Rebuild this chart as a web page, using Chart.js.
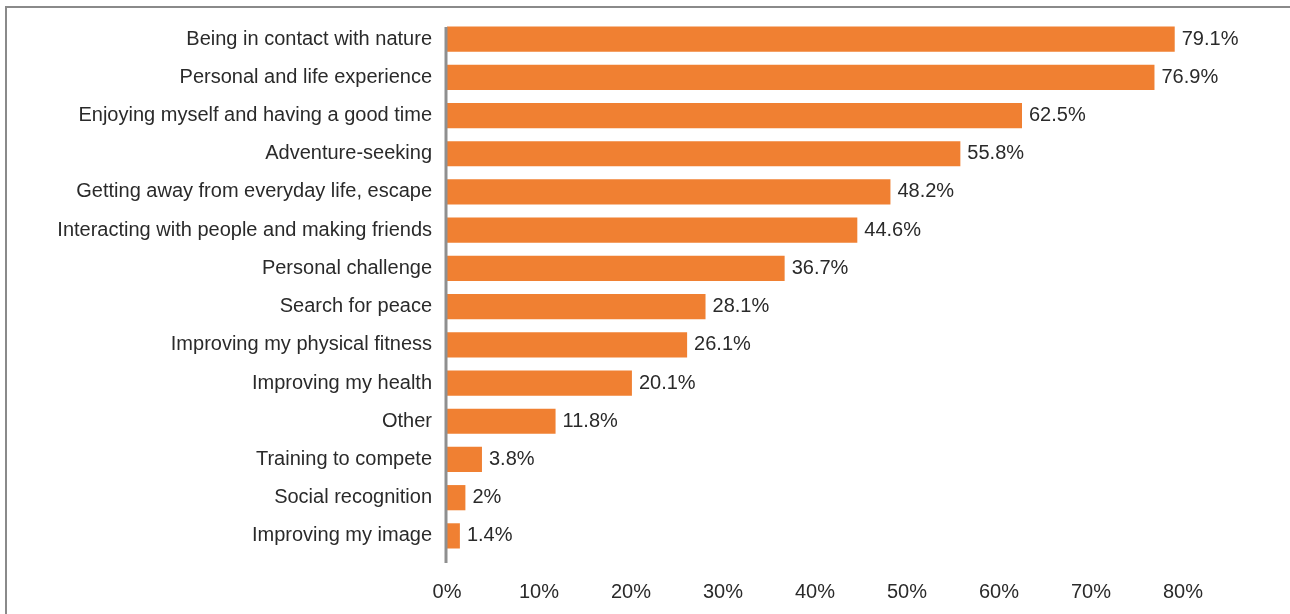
<!DOCTYPE html>
<html>
<head>
<meta charset="utf-8">
<script src="https://cdn.jsdelivr.net/npm/chart.js@4/dist/chart.umd.min.js"></script>
<style>
  html, body { margin: 0; padding: 0; background: #fff; overflow: hidden; }
  #frame {
    position: absolute; left: 5px; top: 6px; width: 1300px; height: 700px;
    border-left: 2px solid #8a8a8a; border-top: 2px solid #8a8a8a;
  }
  #wrap { position: absolute; left: 0; top: 0; width: 1290px; height: 614px; }
</style>
</head>
<body>
<div id="frame"></div>
<div id="wrap"><canvas id="motivChart"></canvas></div>
<script>
// motivations (top to bottom)
const categories = [
    "Being in contact with nature",
    "Personal and life experience",
    "Enjoying myself and having a good time",
    "Adventure-seeking",
    "Getting away from everyday life, escape",
    "Interacting with people and making friends",
    "Personal challenge",
    "Search for peace",
    "Improving my physical fitness",
    "Improving my health",
    "Other",
    "Training to compete",
    "Social recognition",
    "Improving my image"
];
const percents = [79.1, 76.9, 62.5, 55.8, 48.2, 44.6, 36.7, 28.1, 26.1, 20.1, 11.8, 3.8, 2, 1.4];
const xTicks = [0, 10, 20, 30, 40, 50, 60, 70, 80];

const textColor = "#2a2a2a";
const fontFamily = "'Liberation Sans', Arial, Helvetica, sans-serif";

// etiquettes de valeur a droite des barres
const valueLabels = {
    id: "valueLabels",
    afterDatasetsDraw(chart) {
        const ctx = chart.ctx;
        const meta = chart.getDatasetMeta(0);
        ctx.save();
        ctx.font = "20px " + fontFamily;
        ctx.fillStyle = textColor;
        ctx.textAlign = "left";
        ctx.textBaseline = "middle";
        meta.data.forEach((bar, i) => {
            ctx.fillText(percents[i] + "%", bar.x + 7, bar.y);
        });
        ctx.restore();
    }
};

// axe vertical gris (un peu plus long que la zone)
const axisLine = {
    id: "axisLine",
    afterDatasetsDraw(chart) {
        const ctx = chart.ctx;
        const area = chart.chartArea;
        const x0 = chart.scales.x.getPixelForValue(0) - 1;
        ctx.save();
        ctx.strokeStyle = "#8f8f8f";
        ctx.lineWidth = 3;
        ctx.beginPath();
        ctx.moveTo(x0, area.top + 7);
        ctx.lineTo(x0, area.bottom + 8);
        ctx.stroke();
        ctx.restore();
    }
};

const ctx = document.getElementById("motivChart").getContext("2d");

new Chart(ctx, {
    type: "bar",
    data: {
        labels: categories,
        datasets: [{
            data: percents,
            backgroundColor: "#F08032",
            categoryPercentage: 1,
            barPercentage: 0.66
        }]
    },
    options: {
        indexAxis: "y",
        responsive: true,
        maintainAspectRatio: false,
        animation: false,
        layout: { padding: { left: 0, right: 107, top: 20, bottom: 0 } },
        plugins: {
            legend: { display: false },
            tooltip: { enabled: false }
        },
        scales: {
            x: {
                min: 0,
                max: 80,
                afterBuildTicks: axis => {
                    axis.ticks = xTicks.map(v => ({ value: v }));
                },
                afterFit: axis => {
                    axis.height = 59;
                    axis.paddingLeft = 0;
                    axis.paddingRight = 0;
                },
                grid: { display: false, drawTicks: false },
                border: { display: false },
                ticks: {
                    padding: 25,
                    color: textColor,
                    font: { size: 20, family: fontFamily },
                    callback: v => v + "%"
                }
            },
            y: {
                afterFit: axis => {
                    axis.width = 447;
                    axis.paddingTop = 0;
                    axis.paddingBottom = 0;
                },
                grid: { display: false, drawTicks: false },
                border: { display: false },
                ticks: {
                    padding: 15,
                    color: textColor,
                    autoSkip: false,
                    font: { size: 20, family: fontFamily }
                }
            }
        }
    },
    plugins: [valueLabels, axisLine]
});
</script>
</body>
</html>
